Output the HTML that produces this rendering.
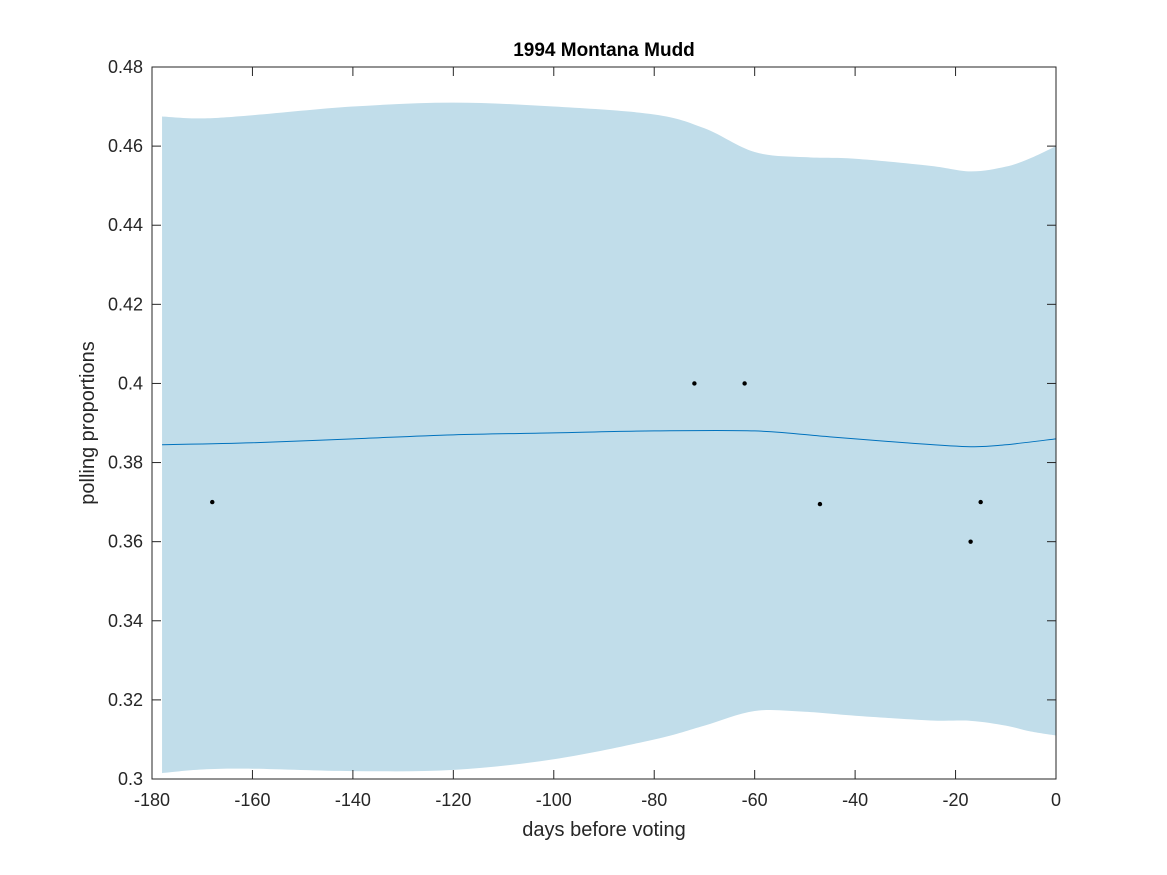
<!DOCTYPE html>
<html><head><meta charset="utf-8"><style>
html,body{margin:0;padding:0;background:#fff;}
svg{display:block;font-family:"Liberation Sans",sans-serif;}
</style></head><body>
<svg id="chart" width="1167" height="875">
<rect width="1167" height="875" fill="#fff"/>
<g id="plot"></g>
<g id="axes"></g>
<text x="604" y="56" text-anchor="middle" font-size="19" font-weight="bold">1994 Montana Mudd</text>
<text x="604" y="836" text-anchor="middle" font-size="20" fill="#262626">days before voting</text>
<text transform="translate(94,423) rotate(-90)" text-anchor="middle" font-size="20" fill="#262626">polling proportions</text>
</svg>
<script>
const bandX=[-178,-170,-160,-140,-120,-100,-80,-70,-60,-50,-40,-25,-17,-10,-5,0];
const upper=[0.4675,0.467,0.4678,0.470,0.471,0.470,0.468,0.4645,0.4585,0.4572,0.4568,0.455,0.4536,0.4548,0.457,0.460];
const lower=[0.3015,0.3024,0.3026,0.302,0.3023,0.305,0.310,0.3135,0.3172,0.317,0.316,0.3148,0.3147,0.3135,0.312,0.311];
const meanX=[-178,-160,-140,-120,-100,-80,-60,-45,-30,-17,-10,0];
const meanY=[0.3845,0.385,0.386,0.387,0.3875,0.388,0.388,0.3865,0.385,0.384,0.3845,0.386];
const ptsX=[-168,-72,-62,-47,-17,-15];
const ptsY=[0.37,0.4,0.4,0.3695,0.36,0.37];
const xTicks=[-180,-160,-140,-120,-100,-80,-60,-40,-20,0];
const yTicks=[0.3,0.32,0.34,0.36,0.38,0.4,0.42,0.44,0.46,0.48];
const X0=152,X1=1056,Y0=779,Y1=67;
const sx=v=>X0+(v+180)/180*(X1-X0);
const sy=v=>Y0-(v-0.3)/0.18*(Y0-Y1);
const NS='http://www.w3.org/2000/svg';
function mk(t,a,p){const e=document.createElementNS(NS,t);for(const k in a)e.setAttribute(k,a[k]);p.appendChild(e);return e;}
function smooth(xs,ys){let d='';const P=xs.map((x,i)=>[sx(x),sy(ys[i])]);
for(let i=0;i<P.length;i++){if(i==0){d+='M'+P[0][0]+','+P[0][1];continue;}
const p0=P[Math.max(i-2,0)],p1=P[i-1],p2=P[i],p3=P[Math.min(i+1,P.length-1)];
d+=` C${p1[0]+(p2[0]-p0[0])/6},${p1[1]+(p2[1]-p0[1])/6} ${p2[0]-(p3[0]-p1[0])/6},${p2[1]-(p3[1]-p1[1])/6} ${p2[0]},${p2[1]}`;}return d;}
const plot=document.getElementById('plot');
const up=smooth(bandX,upper);
const lo=smooth(bandX.slice().reverse(),lower.slice().reverse());
const band=mk('path',{d:up+' L'+lo.slice(1)+' Z',fill:'#c1ddea'},plot);


const ml=mk('path',{d:smooth(meanX,meanY),fill:'none',stroke:'#0072bd','stroke-width':1},plot);


ptsX.forEach((x,i)=>{const c=mk('circle',{cx:sx(x),cy:sy(ptsY[i]),r:2.2,fill:'#000'},plot);

});
const ax=document.getElementById('axes');
const box=mk('rect',{x:X0,y:Y1,width:X1-X0,height:Y0-Y1,fill:'none',stroke:'#262626','stroke-width':1},ax);


xTicks.forEach(t=>{const x=sx(t);
mk('line',{x1:x,x2:x,y1:Y0,y2:Y0-9,stroke:'#262626'},ax);mk('line',{x1:x,x2:x,y1:Y1,y2:Y1+9,stroke:'#262626'},ax);
const l=mk('text',{x:x,y:Y0+27,'text-anchor':'middle','font-size':18,fill:'#262626'},ax);l.textContent=t;

});
yTicks.forEach(t=>{const y=sy(t);
mk('line',{x1:X0,x2:X0+9,y1:y,y2:y,stroke:'#262626'},ax);mk('line',{x1:X1,x2:X1-9,y1:y,y2:y,stroke:'#262626'},ax);
const l=mk('text',{x:X0-9,y:y+6,'text-anchor':'end','font-size':18,fill:'#262626'},ax);l.textContent=String(+t.toFixed(2));

});
</script>
</body></html>
